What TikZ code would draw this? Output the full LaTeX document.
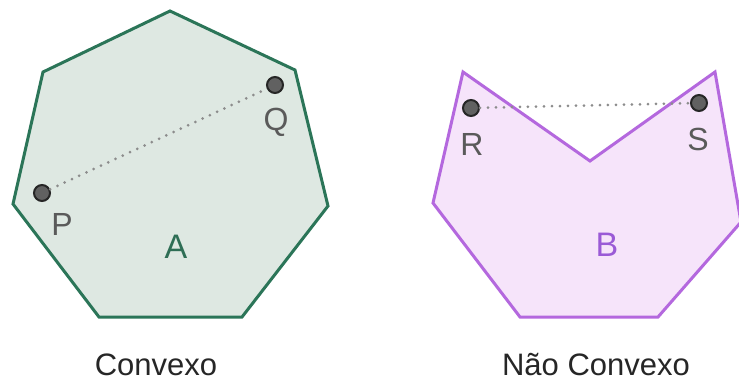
\documentclass[tikz,border=0pt]{standalone}
\usepackage{fontspec}
\setmainfont{Liberation Sans}
\definecolor{greenstroke}{HTML}{2B7558}
\definecolor{greenfill}{HTML}{DEE8E2}
\definecolor{purplestroke}{HTML}{B468DE}
\definecolor{purplefill}{HTML}{F6E4FA}
\definecolor{ptgray}{HTML}{5A5A5A}
\definecolor{Alabel}{HTML}{2E6E55}
\definecolor{Blabel}{HTML}{9A5AD6}
\tikzset{
  polyA/.style={draw=greenstroke, fill=greenfill, line width=3pt, line join=miter},
  polyB/.style={draw=purplestroke, fill=purplefill, line width=3pt, line join=miter},
  ptdot/.style={circle, fill=black!62, draw=black!85, line width=2pt, minimum size=16pt, inner sep=0pt},
  seg/.style={draw=black!45, line width=3pt, line cap=round, dash pattern=on 0pt off 8pt},
  ptlabel/.style={anchor=base, text=ptgray, font=\fontsize{32}{36}\selectfont, inner sep=0pt},
  biglabel/.style={anchor=base, font=\fontsize{34}{38}\selectfont, inner sep=0pt},
  caption/.style={anchor=base, text=black!85, font=\fontsize{31}{36}\selectfont, inner sep=0pt}
}
\begin{document}
\begin{tikzpicture}[x=1pt, y=-1pt]
\useasboundingbox (0,0) rectangle (739,383);
\fill[white] (0,0) rectangle (739,383);
% Convex heptagon A
\coordinate (a1) at (170,11);
\coordinate (a2) at (43,72);
\coordinate (a3) at (13,204);
\coordinate (a4) at (99,317);
\coordinate (a5) at (242,317);
\coordinate (a6) at (328,206);
\coordinate (a7) at (295,70);
\path[polyA] (a1) -- (a2) -- (a3) -- (a4) -- (a5) -- (a6) -- (a7) -- cycle;
% Non-convex polygon B
\coordinate (b1) at (463,72);
\coordinate (b2) at (590,161);
\coordinate (b3) at (715,72);
\coordinate (b4) at (741,222);
\coordinate (b5) at (658,317);
\coordinate (b6) at (520,317);
\coordinate (b7) at (433,203);
\path[polyB] (b1) -- (b2) -- (b3) -- (b4) -- (b5) -- (b6) -- (b7) -- cycle;
% points
\node[ptdot] (P) at (42,193) {};
\node[ptdot] (Q) at (275,85) {};
\node[ptdot] (R) at (471,108) {};
\node[ptdot] (S) at (699,103) {};
\draw[seg] (P) -- (Q);
\draw[seg] (R) -- (S);
% labels
\node[ptlabel] (Pl) at (62,235) {P};
\node[ptlabel] (Ql) at (276,130) {Q};
\node[ptlabel] (Rl) at (472,155) {R};
\node[ptlabel] (Sl) at (698,150) {S};
\node[biglabel, text=Alabel] (Al) at (176,258) {A};
\node[biglabel, text=Blabel] (Bl) at (607,256) {B};
\node[caption] (c1) at (156,375) {Convexo};
\node[caption] (c2) at (596,375) {Não Convexo};
\end{tikzpicture}
\end{document}
